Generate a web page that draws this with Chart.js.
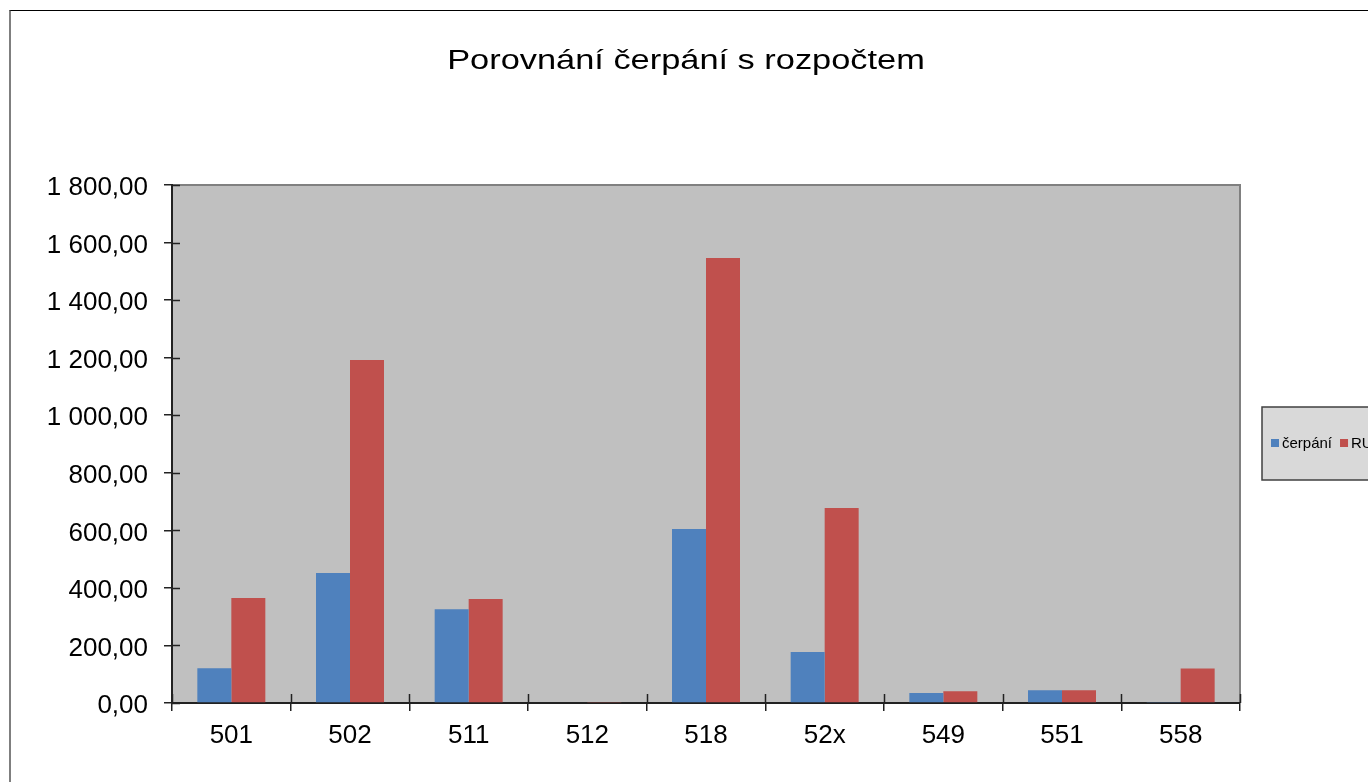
<!DOCTYPE html>
<html>
<head>
<meta charset="utf-8">
<script src="https://cdn.jsdelivr.net/npm/chart.js@4/dist/chart.umd.min.js"></script>
<style>
  html, body { margin: 0; padding: 0; background: #fff; overflow: hidden; width: 1368px; height: 782px; }
  #wrap { position: absolute; left: 9px; top: 10px; border-left: 2px solid #7f7f7f; border-top: 1px solid #000; width: 1440px; height: 771px; }
  #c { display: block; }
</style>
</head>
<body>
<div id="wrap"><canvas id="c" width="1440" height="771"></canvas></div>
<script>
const categories = ['501', '502', '511', '512', '518', '52x', '549', '551', '558'];
const cerpani = [121, 452, 326, 0, 605, 177, 35, 44, 2];
const ru = [365, 1192, 361, 2, 1546, 678, 41, 44, 120];
const seriesNames = ['čerpání', 'RU'];
const titleText = 'Porovnání čerpání s rozpočtem';
const yMin = 0, yMax = 1800, yStep = 200;

const FONT = '"Liberation Sans", Arial, sans-serif';

function fmt(v) {
  const parts = Number(v).toFixed(2).split('.');
  parts[0] = parts[0].replace(/\B(?=(\d{3})+(?!\d))/g, ' ');
  return parts[0] + ',' + parts[1];
}

const titleStretch = {
  id: 'titleStretch',
  afterLayout(chart) {
    const tb = chart.titleBlock;
    if (!tb || tb._stretched) return;
    const orig = tb.draw;
    tb.draw = function (...args) {
      const ctx = this.ctx;
      const cx = (this.left + this.right) / 2;
      ctx.save();
      ctx.translate(cx, 0);
      ctx.scale(1.25, 1);
      ctx.translate(-cx, 0);
      orig.apply(this, args);
      ctx.restore();
    };
    tb._stretched = true;
  }
};

const plotPlugin = {
  id: 'plotDecor',
  beforeDraw(chart) {
    const {ctx, chartArea: a} = chart;
    ctx.save();
    ctx.fillStyle = '#c0c0c0';
    ctx.fillRect(a.left, a.top, a.right - a.left, a.bottom - a.top);
    ctx.strokeStyle = '#808080';
    ctx.lineWidth = 2;
    ctx.beginPath();
    ctx.moveTo(a.left, a.top);
    ctx.lineTo(a.right, a.top);
    ctx.lineTo(a.right, a.bottom);
    ctx.stroke();
    ctx.restore();
  },
  afterDraw(chart) {
    const {ctx, chartArea: a} = chart;
    const ys = chart.scales.y;
    ctx.save();
    ctx.strokeStyle = '#222';
    ctx.lineWidth = 1.5;
    ctx.beginPath();
    ys.ticks.forEach((t, i) => {
      const y = Math.round(ys.getPixelForTick(i)) + 0.5;
      ctx.moveTo(a.left, y); ctx.lineTo(a.left + 8, y);
    });
    for (let i = 0; i <= categories.length; i++) {
      const x = Math.round(a.left + (a.right - a.left) * i / categories.length) + 0.5;
      ctx.moveTo(x, a.bottom); ctx.lineTo(x, a.bottom - 9);
    }
    ctx.stroke();

    // legend
    const lx = 1251, ly = 396, lw = 200, lh = 73;
    ctx.fillStyle = '#d9d9d9';
    ctx.fillRect(lx, ly, lw, lh);
    ctx.strokeStyle = '#404040';
    ctx.lineWidth = 1.5;
    ctx.strokeRect(lx, ly, lw, lh);
    ctx.font = '15px ' + FONT;
    ctx.textBaseline = 'middle';
    let x = lx + 9;
    const cy = ly + lh / 2 + 0.5;
    chart.data.datasets.forEach(ds => {
      ctx.fillStyle = ds.backgroundColor;
      ctx.fillRect(x, cy - 5, 8, 8);
      x += 11;
      ctx.fillStyle = '#000';
      ctx.fillText(ds.label, x, cy);
      x += ctx.measureText(ds.label).width + 8;
    });
    ctx.restore();
  }
};

new Chart(document.getElementById('c'), {
  type: 'bar',
  data: {
    labels: categories,
    datasets: [
      { label: seriesNames[0], data: cerpani, backgroundColor: '#4f81bd', borderWidth: 0 },
      { label: seriesNames[1], data: ru, backgroundColor: '#c0504d', borderWidth: 0 }
    ]
  },
  options: {
    responsive: false,
    animation: false,
    events: [],
    layout: { padding: { left: 0, right: 90, top: 0, bottom: 29 } },
    datasets: { bar: { categoryPercentage: 0.573, barPercentage: 1.0 } },
    plugins: {
      legend: { display: false },
      tooltip: { enabled: false },
      title: {
        display: true,
        text: titleText,
        color: '#000',
        font: { family: FONT, size: 27.5, weight: 'normal' },
        padding: { top: 34, bottom: 107 }
      }
    },
    scales: {
      x: {
        grid: { display: true, drawOnChartArea: false, drawTicks: true, tickLength: 8, color: '#222', lineWidth: 1.5, offset: true },
        border: { display: true, color: '#222', width: 2 },
        ticks: { color: '#000', font: { family: FONT, size: 26 }, padding: 9, maxRotation: 0 },
        afterFit(s) { s.height = 50; }
      },
      y: {
        min: yMin, max: yMax,
        grid: { display: true, drawOnChartArea: false, drawTicks: true, tickLength: 8, color: '#222', lineWidth: 1.5 },
        border: { display: true, color: '#222', width: 2 },
        ticks: { stepSize: yStep, color: '#000', font: { family: FONT, size: 26 }, padding: 16, labelOffset: 3, callback: v => fmt(v) },
        afterFit(s) { s.width = 161; }
      },
      yR: {
        type: 'linear', axis: 'y', position: 'right', display: true,
        grid: { display: false, drawTicks: false },
        border: { display: false },
        ticks: { display: false },
        afterFit(s) { s.width = 121; }
      }
    }
  },
  plugins: [titleStretch, plotPlugin]
});
</script>
</body>
</html>
